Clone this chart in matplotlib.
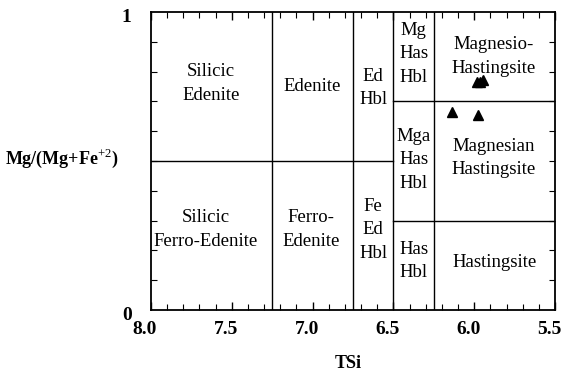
import matplotlib.pyplot as plt
import matplotlib.transforms as mtransforms
import numpy as np

plt.rcParams['font.family'] = ['Liberation Serif', 'DejaVu Serif']
plt.rcParams['mathtext.fontset'] = 'custom'
plt.rcParams['mathtext.rm'] = 'Liberation Serif'
plt.rcParams['mathtext.bf'] = 'Liberation Serif:bold'

# sample points
tsi = [6.139, 5.975, 5.983, 5.964, 5.944]
mg_ratio = [0.665, 0.654, 0.765, 0.766, 0.772]

# field boundaries
v_lines = [7.25, 6.75, 6.5, 6.25]
h_left = 0.5     # from 8.0 to 6.5
h_right = [0.7, 0.3]   # from 6.5 to 5.5

# field names: (x, y, text)
fields = [
    (7.63, 0.76, "Silicic\nEdenite"),
    (7.0, 0.75, "Edenite"),
    (6.625, 0.745, "Ed\nHbl"),
    (6.375, 0.86, "Mg\nHas\nHbl"),
    (5.88, 0.85, "Magnesio-\nHastingsite"),
    (6.375, 0.505, "Mga\nHas\nHbl"),
    (5.88, 0.51, "Magnesian\nHastingsite"),
    (7.66, 0.27, "Silicic\nFerro-Edenite"),
    (7.01, 0.27, "Ferro-\nEdenite"),
    (6.625, 0.27, "Fe\nEd\nHbl"),
    (6.375, 0.165, "Has\nHbl"),
    (5.875, 0.158, "Hastingsite"),
]

x_ticks = [8.0, 7.5, 7.0, 6.5, 6.0, 5.5]
x_ticklabels = ["8.0", "7.5", "7.0", "6.5", "6.0", "5.5"]

fig = plt.figure(figsize=(5.63, 3.76), dpi=100)
ax = fig.add_axes([0.2682, 0.1755, 0.7176, 0.7925])

ax.set_xlim(8.0, 5.5)
ax.set_ylim(0, 1)

for v in v_lines:
    ax.plot([v, v], [0, 1], color='black', lw=1.0)
ax.plot([8.0, 6.5], [h_left, h_left], color='black', lw=1.0)
for h in h_right:
    ax.plot([6.5, 5.5], [h, h], color='black', lw=1.0)

for x, y, t in fields:
    ax.text(x, y, t, ha='center', va='center', fontsize=13.5, linespacing=1.5)

ax.plot(tsi, mg_ratio, linestyle='none', marker='^', color='black', markersize=7)

ax.set_xticks(x_ticks)
ax.set_xticklabels(x_ticklabels, fontsize=14, fontweight='bold')
ax.set_xticks(np.arange(5.5, 8.01, 0.1), minor=True)
ax.set_yticks([0, 1])
ax.set_yticklabels(["0", "1"], fontsize=14, fontweight='bold')
ax.set_yticks(np.arange(0, 1.01, 0.1), minor=True)

ax.tick_params(which='both', direction='in', top=True, right=True)
ax.tick_params(which='major', length=6, width=1.0, pad=8)
ax.tick_params(which='minor', length=4, width=0.8)
ax.tick_params(axis='y', which='major', length=0, pad=14)
for s in ax.spines.values():
    s.set_linewidth(1.3)

# tick labels sit a little left of / below their ticks in the original
shift_x = mtransforms.ScaledTranslation(-6 / 100, 0, fig.dpi_scale_trans)
for lab in ax.get_xticklabels():
    lab.set_transform(lab.get_transform() + shift_x)
shift_y = mtransforms.ScaledTranslation(0, -3.5 / 100, fig.dpi_scale_trans)
for lab in ax.get_yticklabels():
    lab.set_transform(lab.get_transform() + shift_y)

fig.text(348 / 563, 1 - 363 / 376, "TSi", ha='center', va='center',
         fontsize=13, fontweight='bold')
fig.text(5 / 563, 1 - 158 / 376, r'Mg/(Mg+Fe$^{+2}$)', ha='left', va='center',
         fontsize=13, fontweight='bold')

fig.savefig('out.png', dpi=100)
